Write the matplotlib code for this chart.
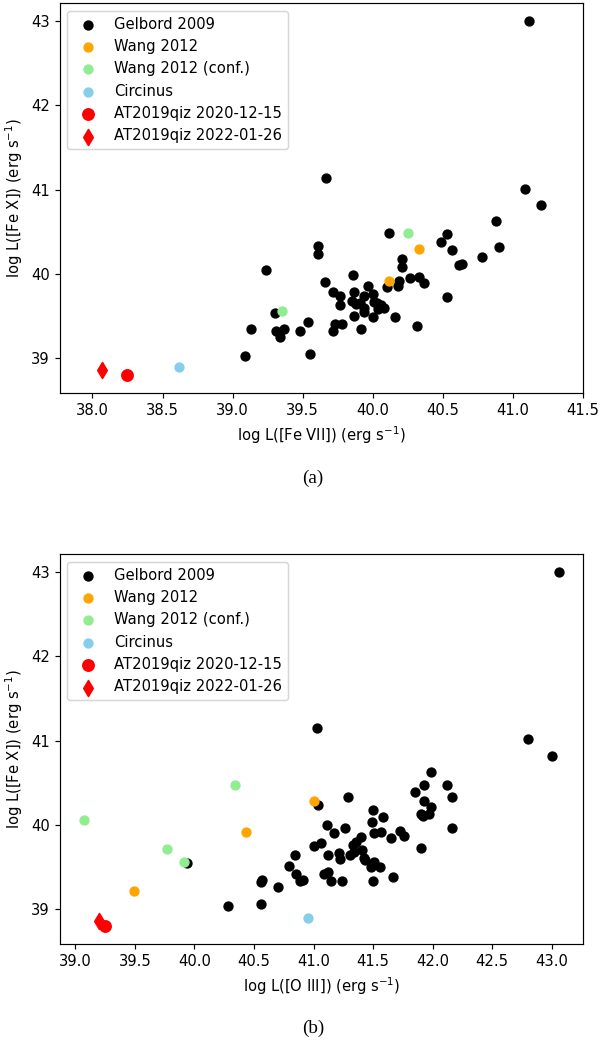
"""
Coronal line luminosity comparison: [Fe X] vs [Fe VII] and [Fe X] vs [O III].
"""

import matplotlib.pyplot as plt

# --- panel (a): [Fe VII] vs [Fe X] -------------------------------------------
gelbord_fevii = [41.12, 39.67, 41.09, 41.20, 40.88, 40.12, 40.53, 40.49, 39.61, 39.61,
                 40.90, 40.57, 40.21, 40.21, 40.78, 40.62, 40.64, 39.24, 39.86, 40.27,
                 40.33, 40.37, 40.19, 40.18, 40.10, 39.66, 39.97, 39.72, 39.77, 39.87,
                 39.94, 40.00, 39.85, 39.88, 39.91, 39.94, 39.94, 40.01, 40.03, 40.06,
                 40.04, 40.08, 39.77, 39.87, 40.00, 40.16, 40.53, 40.32, 39.30, 39.13,
                 39.31, 39.37, 39.34, 39.48, 39.54, 39.73, 39.78, 39.72, 39.92, 39.09,
                 39.55]
gelbord_fex_a = [43.00, 41.14, 41.01, 40.82, 40.63, 40.48, 40.47, 40.38, 40.33, 40.23,
                 40.32, 40.28, 40.18, 40.08, 40.20, 40.11, 40.12, 40.04, 39.99, 39.95,
                 39.96, 39.89, 39.92, 39.86, 39.84, 39.90, 39.86, 39.79, 39.74, 39.78,
                 39.74, 39.76, 39.68, 39.64, 39.66, 39.59, 39.55, 39.67, 39.66, 39.63,
                 39.58, 39.60, 39.63, 39.50, 39.49, 39.49, 39.73, 39.38, 39.54, 39.34,
                 39.32, 39.34, 39.25, 39.32, 39.43, 39.41, 39.41, 39.32, 39.34, 39.03,
                 39.05]
wang_fevii = [40.33, 40.12]
wang_fex_a = [40.29, 39.92]
wang_conf_fevii = [40.25, 39.35]
wang_conf_fex_a = [40.48, 39.56]
circinus_fevii = [38.62]
at_2020_fevii = [38.25]
at_2022_fevii = [38.07]

# --- panel (b): [O III] vs [Fe X] --------------------------------------------
gelbord_oiii = [43.06, 41.03, 42.80, 43.00, 41.99, 41.93, 42.12, 41.85, 42.16, 41.29,
                41.93, 41.99, 41.04, 41.50, 41.58, 41.49, 41.90, 41.97, 41.92, 41.11,
                41.26, 41.17, 41.51, 41.57, 41.65, 41.73, 41.76, 42.16, 41.90, 41.40,
                41.36, 41.33, 41.06, 41.00, 40.84, 41.12, 41.21, 41.22, 41.31, 41.34,
                41.41, 41.42, 41.43, 41.51, 41.48, 41.56, 41.67, 41.50, 40.79, 40.85,
                40.89, 40.91, 41.09, 41.12, 41.15, 41.24, 40.70, 40.56, 40.57, 40.28,
                40.56, 39.94]
gelbord_fex_b = [43.00, 41.15, 41.02, 40.82, 40.63, 40.48, 40.48, 40.39, 40.33, 40.33,
                 40.29, 40.21, 40.24, 40.18, 40.09, 40.04, 40.13, 40.13, 40.11, 40.00,
                 39.97, 39.91, 39.90, 39.92, 39.85, 39.93, 39.87, 39.96, 39.73, 39.86,
                 39.80, 39.76, 39.79, 39.75, 39.65, 39.64, 39.67, 39.60, 39.65, 39.68,
                 39.70, 39.61, 39.58, 39.56, 39.50, 39.50, 39.38, 39.34, 39.51, 39.42,
                 39.34, 39.35, 39.42, 39.44, 39.34, 39.34, 39.26, 39.32, 39.35, 39.04,
                 39.06, 39.55]
wang_oiii = [41.00, 40.43, 39.49]
wang_fex_b = [40.29, 39.92, 39.22]
wang_conf_oiii = [40.34, 39.07, 39.77, 39.91]
wang_conf_fex_b = [40.48, 40.06, 39.71, 39.56]
circinus_oiii = [40.95]
at_2020_oiii = [39.25]
at_2022_oiii = [39.20]

# [Fe X] of the single objects (same in both panels)
circinus_fex = [38.90]
at_2020_fex = [38.80]
at_2022_fex = [38.86]

DPI = 106
fig = plt.figure(figsize=(600 / DPI, 1043 / DPI), dpi=DPI)
ax_a = fig.add_axes([0.1, 0.6235, 0.871, 0.3733])
ax_b = fig.add_axes([0.1, 0.0950, 0.871, 0.3735])


def draw_panel(ax, gx, gy, wx, wy, cx, cy, circ_x, at1_x, at2_x, xlabel):
    """Scatter all samples of one panel."""
    ax.scatter(gx, gy, color='black', label='Gelbord 2009')
    ax.scatter(wx, wy, color='orange', label='Wang 2012')
    ax.scatter(cx, cy, color='lightgreen', label='Wang 2012 (conf.)')
    ax.scatter(circ_x, circinus_fex, color='skyblue', label='Circinus')
    ax.scatter(at1_x, at_2020_fex, color='red', marker='o', s=60,
               label='AT2019qiz 2020-12-15')
    ax.scatter(at2_x, at_2022_fex, color='red', marker='d', s=60,
               label='AT2019qiz 2022-01-26')
    ax.set_xlabel(xlabel)
    ax.set_ylabel('log L([Fe X]) (erg s$^{-1}$)')
    ax.set_yticks([39, 40, 41, 42, 43])
    ax.legend(loc='upper left')


draw_panel(ax_a, gelbord_fevii, gelbord_fex_a, wang_fevii, wang_fex_a,
           wang_conf_fevii, wang_conf_fex_a, circinus_fevii,
           at_2020_fevii, at_2022_fevii, 'log L([Fe VII]) (erg s$^{-1}$)')
ax_a.set_xlim(37.768, 41.5)

draw_panel(ax_b, gelbord_oiii, gelbord_fex_b, wang_oiii, wang_fex_b,
           wang_conf_oiii, wang_conf_fex_b, circinus_oiii,
           at_2020_oiii, at_2022_oiii, 'log L([O III]) (erg s$^{-1}$)')

# sub-figure captions
cap_font = dict(family=['Liberation Serif', 'DejaVu Serif'], fontsize=13,
                ha='center', va='center')
fig.text(313 / 600, 1 - 478 / 1043, '(a)', **cap_font)
fig.text(313 / 600, 1 - 1028 / 1043, '(b)', **cap_font)

fig.savefig('out.png', dpi=DPI)
